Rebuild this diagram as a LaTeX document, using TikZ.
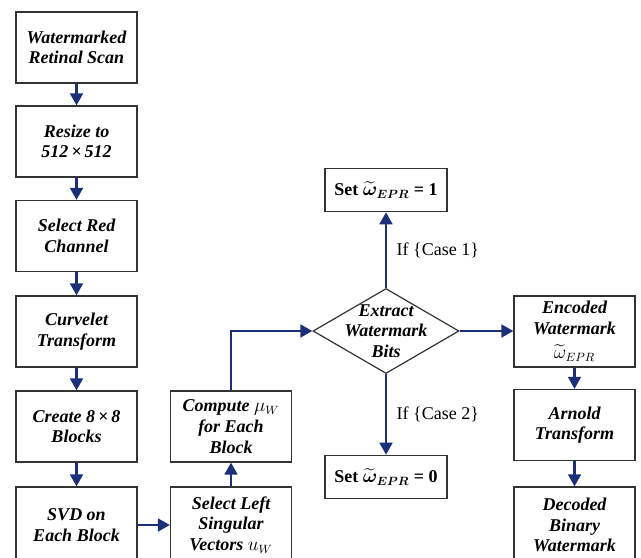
\documentclass[tikz,border=0pt]{standalone}
\usepackage{amsmath}
\usepackage{fontspec}
\setmainfont{Liberation Serif}
\usetikzlibrary{arrows.meta,shapes.geometric}
\definecolor{navy}{RGB}{28,48,122}
\begin{document}
\begin{tikzpicture}[x=0.75pt,y=-0.75pt,
  bf/.style={font=\fontsize{13.5}{15.5}\selectfont\bfseries\itshape},
  box/.style={draw=black!80, line width=0.9pt, minimum width=90.75pt, minimum height=53.25pt, align=center, inner sep=2pt, bf},
  lowbox/.style={box, minimum height=57pt},
  setbox/.style={draw=black!80, line width=0.9pt, minimum width=91.5pt, minimum height=32.5pt, align=center, inner sep=2pt, font=\fontsize{13.5}{15.5}\selectfont\bfseries\boldmath},
  arr/.style={draw=navy, line width=2pt, -{Triangle[length=9pt,width=9.5pt]}},
  lbl/.style={font=\fontsize{13.5}{15.5}\selectfont, anchor=west, inner sep=0pt}]
\fill[white] (0,0) rectangle (641,557);
\clip (0,0) rectangle (641,557);
% left column
\node[box] (b1) at (76.5,47.5) {Watermarked\\Retinal Scan};
\node[box] (b2) at (76.5,141.5) {Resize to\\512\,×\,512};
\node[box] (b3) at (76.5,236) {Select Red\\Channel};
\node[box] (b4) at (76.5,331.5) {Curvelet\\Transform};
\node[box] (b5) at (76.5,426.5) {Create 8\,×\,8\\Blocks};
\node[lowbox] (b6) at (76.5,525) {SVD on\\Each Block};
% middle column
\node[box] (c1) at (231,426.5) {Compute $\mu_W$\\for Each\\Block};
\node[lowbox] (c2) at (231,525) {Select Left\\Singular\\Vectors $u_W$};
% diamond
\node[diamond, draw=black!80, line width=0.9pt, minimum width=109.5pt, minimum height=63.75pt, inner sep=0pt] (d) at (386,331) {};
\node[bf, align=center] (dt) at (d) {Extract\\Watermark\\Bits};
\node[setbox] (s1) at (386,190) {Set $\widetilde{\omega}_{EPR}$ = 1};
\node[setbox] (s0) at (386,477) {Set $\widetilde{\omega}_{EPR}$ = 0};
% right column
\node[box] (r1) at (574.5,331.5) {Encoded\\Watermark\\[3pt]\normalfont$\widetilde{\omega}_{EPR}$};
\node[box] (r2) at (574.5,425) {Arnold\\Transform};
\node[lowbox] (r3) at (574.5,525) {Decoded\\Binary\\Watermark};
% arrows
\draw[arr] (b1) -- (b2);
\draw[arr] (b2) -- (b3);
\draw[arr] (b3) -- (b4);
\draw[arr] (b4) -- (b5);
\draw[arr] (b5) -- (b6);
\draw[arr] (b6.east |- c2) -- (c2.west);
\draw[arr] (c2) -- (c1);
\draw[arr] (c1.north) |- (d.west);
\draw[arr] (d.north) -- node[lbl, pos=0.5, xshift=7pt] (l1) {If \{Case 1\}} (s1.south);
\draw[arr] (d.south) -- node[lbl, pos=0.5, xshift=7pt] (l2) {If \{Case 2\}} (s0.north);
\draw[arr] (d.east) -- (d.east -| r1.west);
\draw[arr] (r1) -- (r2);
\draw[arr] (r2) -- (r3);
\end{tikzpicture}
\end{document}
